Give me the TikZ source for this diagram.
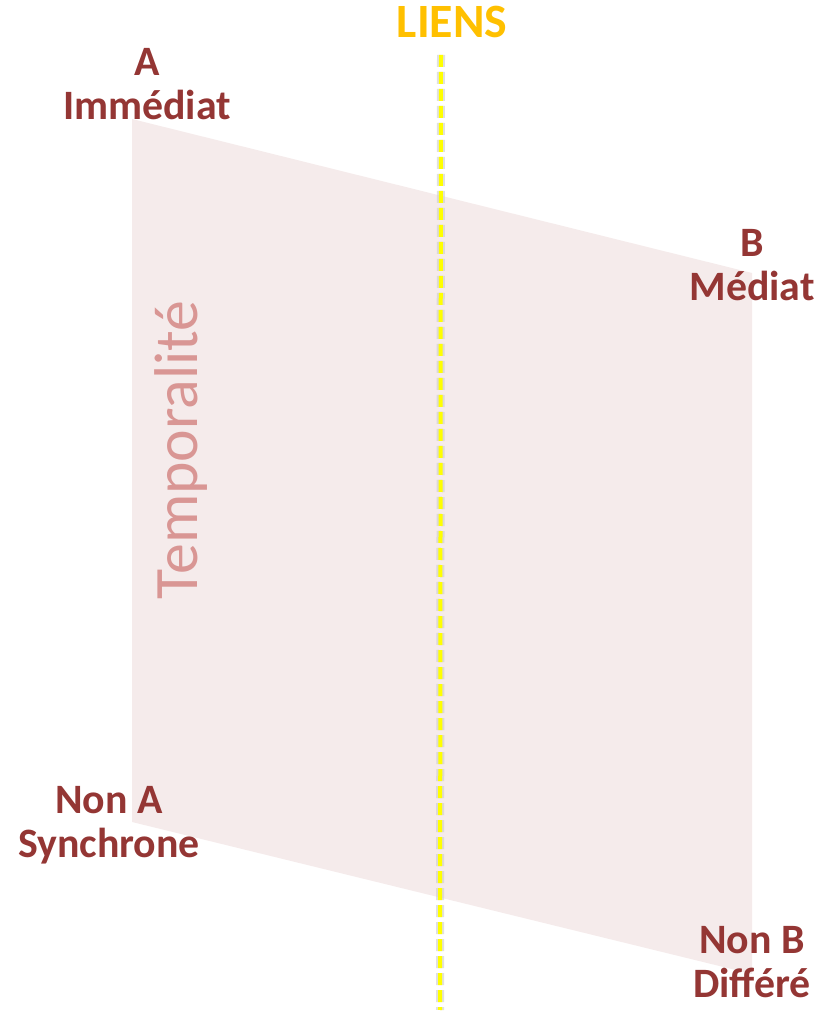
\documentclass[tikz,border=0pt]{standalone}
\usepackage{fontspec}
\setmainfont{Carlito}
\usepackage{xcolor}
\definecolor{pole}{HTML}{943634}
\definecolor{plan}{HTML}{F5EBEB}
\definecolor{tempo}{HTML}{D99694}
\definecolor{liens}{HTML}{FFC000}
\definecolor{axe}{HTML}{FFFF00}
\tikzset{%
  polelabel/.style={text=pole, font=\fontsize{42}{44}\selectfont\bfseries, align=center, inner sep=0pt},
  axeline/.style={axe, line width=4bp, dash pattern=on 12bp off 5bp}
}

\begin{document}
\begin{tikzpicture}[x=1bp,y=1bp]
\useasboundingbox (0,0) rectangle (820,1012);
% plan de la temporalite
\fill[plan] (132,893) -- (752,739) -- (752,38) -- (132,190) -- cycle;
\node[text=tempo, font=\fontsize{62}{62}\selectfont, rotate=90, inner sep=0pt] (tempo) at (181,562) {Temporalité};
% les poles
\node[polelabel] (A) at (147,928) {A\\Immédiat};
\node[polelabel] (B) at (752,747) {B\\Médiat};
\node[polelabel] (nonA) at (109,187) {Non A\\Synchrone};
\node[polelabel] (nonB) at (752,50) {Non B\\Différé};
% l'axe des liens
\node[polelabel, text=liens, font=\fontsize{48}{48}\selectfont\bfseries] (liens) at (452,990) {LIENS};
\coordinate (haut) at (441,957);
\coordinate (bas) at (440,2);
\draw[gray!40, line width=8bp, dash pattern=on 12bp off 5bp, opacity=0.6] (haut) -- (bas);
\draw[axeline] (haut) -- (bas);
\end{tikzpicture}
\end{document}
